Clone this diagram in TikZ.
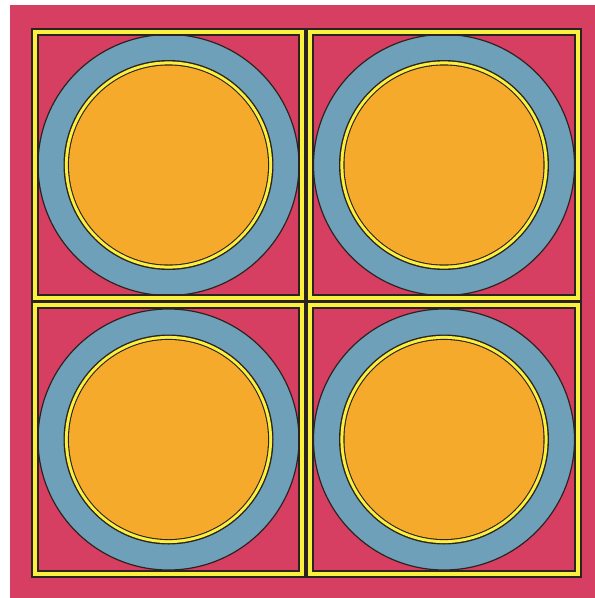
\documentclass[tikz,border=0pt]{standalone}
\usetikzlibrary{calc}

\definecolor{bgred}{RGB}{214,62,98}
\definecolor{ringblue}{RGB}{110,160,186}
\definecolor{discorange}{RGB}{246,170,44}
\definecolor{rimyellow}{RGB}{250,240,62}
\definecolor{edgeblack}{RGB}{45,35,30}

\tikzset{
  edgeline/.style={draw=edgeblack, line width=1.3pt},
  bandline/.style={draw=rimyellow, line width=4.5pt},
  bluering/.style={fill=ringblue, draw=edgeblack, line width=1.2pt},
}

\begin{document}
\begin{tikzpicture}[x=1pt, y=-1pt]
  \useasboundingbox (0,0) rectangle (595,598);
  \fill[white] (0,0) rectangle (595,598);
  % red ground
  \fill[bgred] (10,5) rectangle (595,598);

  % four cells: left, top, width, height
  \foreach \cx/\cy/\w/\h in {32/29/273/272, 307/29/274/272, 32/302/273/275, 307/302/274/275} {
    \coordinate (mid) at ({\cx+\w/2},{\cy+\h/2});
    % blue circle
    \draw[bluering] (mid) circle[radius=130.5pt];
    % yellow frame
    \draw[bandline] ({\cx+3},{\cy+3}) rectangle ({\cx+\w-3},{\cy+\h-3});
    \draw[edgeline] (\cx,\cy) rectangle ({\cx+\w},{\cy+\h});
    \draw[edgeline] ({\cx+6},{\cy+6}) rectangle ({\cx+\w-6},{\cy+\h-6});
    % orange disc with yellow rim
    \fill[edgeblack] (mid) circle[radius=105pt];
    \fill[rimyellow] (mid) circle[radius=103.6pt];
    \fill[edgeblack] (mid) circle[radius=100.6pt];
    \fill[discorange] (mid) circle[radius=99.5pt];
  }

  % middle joint
  \fill[edgeblack] (306,301.5) circle[radius=2pt];
\end{tikzpicture}
\end{document}
